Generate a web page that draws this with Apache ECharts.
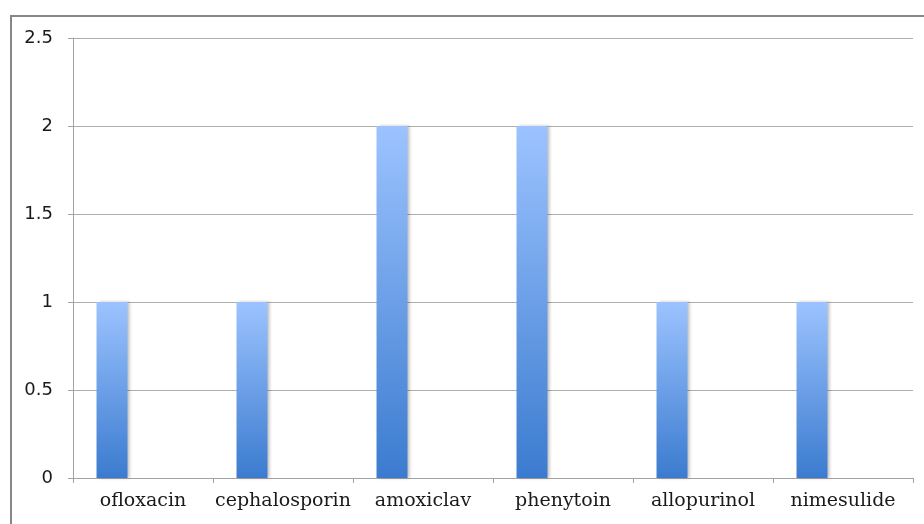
<!DOCTYPE html>
<html>
<head>
<meta charset="utf-8">
<script src="https://cdn.jsdelivr.net/npm/echarts@6/dist/echarts.min.js"></script>
<style>
  html, body { margin: 0; padding: 0; background: #fff; }
  #main { width: 924px; height: 524px; }
</style>
</head>
<body>
<div id="main"></div>
<script>
// data //
var drugs = ['ofloxacin', 'cephalosporin', 'amoxiclav', 'phenytoin', 'allopurinol', 'nimesulide'];
var cases = [1, 1, 2, 2, 1, 1];
// two empty series that only reserve room in each category, like the source sheet
var emptyA = ['-', '-', '-', '-', '-', '-'];
var emptyB = ['-', '-', '-', '-', '-', '-'];
// data end //

var myChart = echarts.init(document.getElementById('main'));

var lineColor = '#a3a3a3';

var option = {
    animation: false,
    grid: {
        left: 73,
        right: 11,
        top: 38,
        bottom: 46
    },
    xAxis: {
        type: 'category',
        data: drugs,
        axisLine: { lineStyle: { color: lineColor, width: 1 } },
        axisTick: { show: true, interval: 0, length: 5, lineStyle: { color: lineColor } },
        axisLabel: {
            interval: 0,
            hideOverlap: false,
            color: '#1a1a1a',
            fontFamily: 'DejaVu Serif',
            fontSize: 19,
            margin: 14
        }
    },
    yAxis: {
        type: 'value',
        min: 0,
        max: 2.5,
        interval: 0.5,
        axisLine: { show: true, lineStyle: { color: lineColor, width: 1 } },
        axisTick: { show: true, length: 5, lineStyle: { color: lineColor } },
        splitLine: { lineStyle: { color: '#adadad', width: 1 } },
        axisLabel: {
            color: '#1a1a1a',
            fontFamily: 'DejaVu Sans',
            fontSize: 18,
            margin: 20
        }
    },
    series: [
        {
            name: 'cases',
            type: 'bar',
            data: cases,
            barGap: '0%',
            barCategoryGap: '33.6%',
            itemStyle: {
                color: new echarts.graphic.LinearGradient(0, 0, 0, 1, [
                    { offset: 0, color: '#9cc3ff' },
                    { offset: 1, color: '#3b7bcf' }
                ]),
                shadowColor: 'rgba(0,0,0,0.25)',
                shadowBlur: 3,
                shadowOffsetX: 2
            }
        },
        { name: 'a', type: 'bar', data: emptyA },
        { name: 'b', type: 'bar', data: emptyB }
    ],
    graphic: [{
        type: 'polyline',
        shape: { points: [[11, 530], [11, 16], [930, 16]] },
        style: { stroke: '#878787', lineWidth: 2, fill: null },
        silent: true
    }]
};

myChart.setOption(option, true);
</script>
</body>
</html>
